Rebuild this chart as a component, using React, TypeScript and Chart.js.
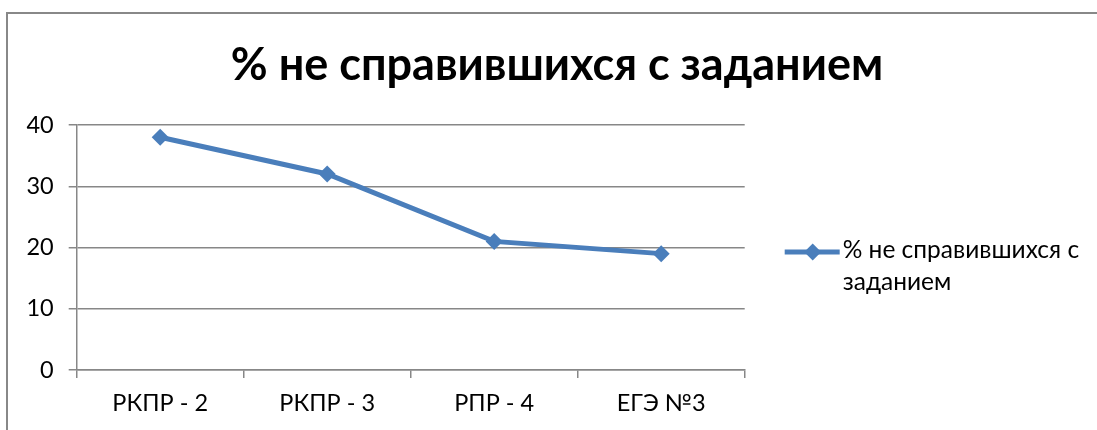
import React, { useEffect, useRef } from "react";
import { Chart, registerables } from "chart.js";

Chart.register(...registerables);

const categories = ["РКПР - 2", "РКПР - 3", "РПР - 4", "ЕГЭ №3"];
const seriesLabel = "% не справившихся с заданием";
const seriesValues = [38, 32, 21, 19];
const titleText = "% не справившихся с заданием";
const yTicks = [0, 10, 20, 30, 40];

const BLUE = "#4A7EBB";
const GRID = "#878787";
const FONT = "Lato, 'Open Sans', sans-serif";

const framePlugin = {
  id: "frame",
  beforeDraw(chart: any) {
    const ctx = chart.ctx;
    ctx.save();
    ctx.fillStyle = "#ffffff";
    ctx.fillRect(0, 0, chart.width, chart.height);
    ctx.strokeStyle = "#888888";
    ctx.lineWidth = 2;
    ctx.beginPath();
    ctx.moveTo(7, chart.height + 2);
    ctx.lineTo(7, 13);
    ctx.lineTo(chart.width + 2, 13);
    ctx.stroke();
    ctx.restore();
  },
};

const titlePlugin = {
  id: "customTitle",
  afterDraw(chart: any) {
    const ctx = chart.ctx;
    ctx.save();
    ctx.font = `bold 45px ${FONT}`;
    ctx.fillStyle = "#000";
    ctx.textAlign = "center";
    ctx.textBaseline = "alphabetic";
    ctx.fillText(titleText, 557, 80);
    ctx.restore();
  },
};

const legendPlugin = {
  id: "customLegend",
  afterDraw(chart: any) {
    const ctx = chart.ctx;
    const ds = chart.data.datasets[0];
    const area = chart.chartArea;
    const x0 = area.right + 40;
    const y0 = 252;
    ctx.save();
    ctx.strokeStyle = ds.borderColor;
    ctx.lineWidth = 5;
    ctx.beginPath();
    ctx.moveTo(x0, y0);
    ctx.lineTo(x0 + 55, y0);
    ctx.stroke();
    ctx.fillStyle = ds.borderColor;
    const cx = x0 + 28;
    const r = 8.5;
    ctx.beginPath();
    ctx.moveTo(cx, y0 - r);
    ctx.lineTo(cx + r, y0);
    ctx.lineTo(cx, y0 + r);
    ctx.lineTo(cx - r, y0);
    ctx.closePath();
    ctx.fill();
    ctx.font = `24.5px ${FONT}`;
    ctx.fillStyle = "#000";
    ctx.textBaseline = "alphabetic";
    ctx.textAlign = "left";
    const words = String(ds.label).split(" ");
    const maxW = chart.width - (x0 + 58) - 6;
    const lines: string[] = [];
    let cur = "";
    for (const w of words) {
      const test = cur ? cur + " " + w : w;
      if (ctx.measureText(test).width > maxW && cur) {
        lines.push(cur);
        cur = w;
      } else cur = test;
    }
    if (cur) lines.push(cur);
    lines.forEach((ln, i) => ctx.fillText(ln, x0 + 58, 258 + i * 32));
    ctx.restore();
  },
};

export default function App() {
  const ref = useRef<HTMLCanvasElement>(null);
  useEffect(() => {
    if (!ref.current) return;
    const chart = new Chart(ref.current, {
      type: "line",
      data: {
        labels: categories,
        datasets: [
          {
            label: seriesLabel,
            data: seriesValues,
            borderColor: BLUE,
            backgroundColor: BLUE,
            borderWidth: 5,
            pointStyle: "rectRot",
            pointRadius: 8.5,
            pointHoverRadius: 8.5,
            pointBackgroundColor: BLUE,
            pointBorderColor: BLUE,
            pointBorderWidth: 0,
            tension: 0,
          },
        ],
      },
      options: {
        responsive: false,
        animation: false,
        layout: { padding: { left: 10, right: 352.3, top: 125, bottom: 0 } },
        plugins: {
          legend: { display: false },
          title: { display: false },
          tooltip: { enabled: false },
        },
        scales: {
          x: {
            type: "category",
            offset: true,
            grid: {
              offset: true,
              drawOnChartArea: false,
              drawTicks: true,
              tickLength: 8,
              color: GRID,
              lineWidth: 1.5,
            },
            border: { display: true, color: GRID, width: 1.5 },
            ticks: {
              font: { family: FONT, size: 23.5 },
              color: "#000",
              padding: 11,
              maxRotation: 0,
              autoSkip: false,
            },
            afterFit(scale: any) {
              scale.height = 60;
            },
          },
          y: {
            min: 0,
            max: 40,
            afterBuildTicks(scale: any) {
              scale.ticks = yTicks.map((v) => ({ value: v }));
            },
            grid: {
              drawTicks: true,
              tickLength: 8,
              color: GRID,
              lineWidth: 1.5,
            },
            border: { display: true, color: GRID, width: 1.5 },
            ticks: {
              font: { family: FONT, size: 23.5 },
              color: "#000",
              padding: 15,
            },
            afterFit(scale: any) {
              scale.width = 66.7;
            },
          },
        },
      },
      plugins: [framePlugin, titlePlugin, legendPlugin],
    });
    return () => chart.destroy();
  }, []);
  return (
    <div style={{ position: "fixed", left: 0, top: 0, width: 1097, height: 430 }}>
      <canvas ref={ref} width={1097} height={430} style={{ display: "block" }} />
    </div>
  );
}
